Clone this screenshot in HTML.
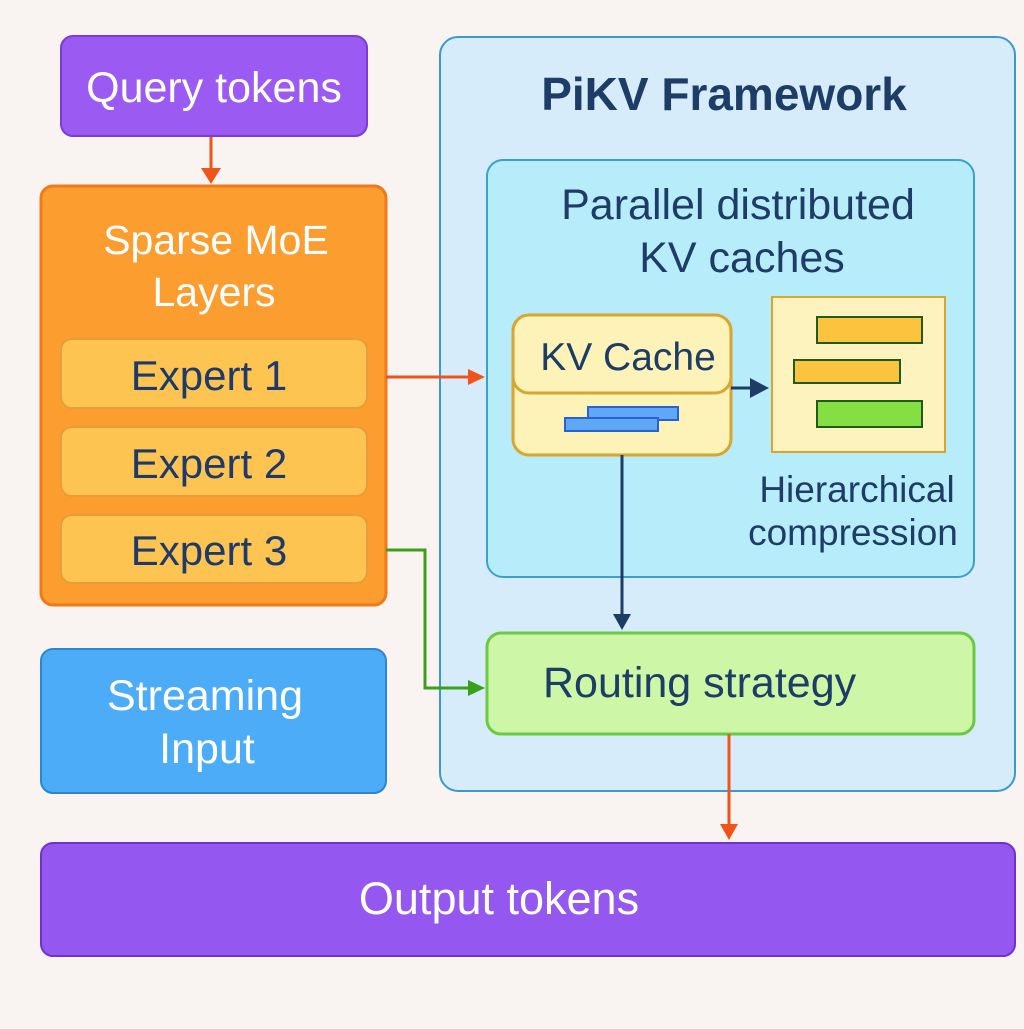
<!DOCTYPE html>
<html><head><style>html,body{margin:0;padding:0;background:#f9f4f2}</style></head><body>
<svg width="1024" height="1024" viewBox="0 0 1024 1024" xmlns="http://www.w3.org/2000/svg" font-family="Liberation Sans, sans-serif">
<rect width="1024" height="1024" fill="#f9f4f2"/>
<!-- Query tokens -->
<rect x="61" y="36" width="306" height="100" rx="12" fill="#9b5af2" stroke="#7a3bd6" stroke-width="2"/>
<text x="214" y="102" font-size="43" fill="#fff" text-anchor="middle">Query tokens</text>
<line x1="211" y1="137" x2="211" y2="172" stroke="#f0541a" stroke-width="3"/>
<path d="M201,168 L221,168 L211,184 z" fill="#f0541a"/>
<!-- Sparse MoE -->
<rect x="41" y="186" width="345" height="419" rx="12" fill="#fb9d2f" stroke="#f07a1a" stroke-width="3"/>
<text x="216" y="254" font-size="41" fill="#fff" text-anchor="middle">Sparse MoE</text>
<text x="214" y="306" font-size="41" fill="#fff" text-anchor="middle">Layers</text>
<rect x="61" y="339" width="306" height="69" rx="11" fill="#fdc451" stroke="#e89d38" stroke-width="2"/>
<text x="209" y="390" font-size="42" fill="#1e3a6a" text-anchor="middle">Expert 1</text>
<rect x="61" y="427" width="306" height="69" rx="11" fill="#fdc451" stroke="#e89d38" stroke-width="2"/>
<text x="209" y="478" font-size="42" fill="#1e3a6a" text-anchor="middle">Expert 2</text>
<rect x="61" y="515" width="306" height="68" rx="11" fill="#fdc451" stroke="#e89d38" stroke-width="2"/>
<text x="209" y="565" font-size="42" fill="#1e3a6a" text-anchor="middle">Expert 3</text>
<!-- Streaming -->
<rect x="41" y="649" width="345" height="144" rx="12" fill="#4cacf7" stroke="#2b85d0" stroke-width="2"/>
<text x="205" y="710" font-size="43" fill="#fff" text-anchor="middle">Streaming</text>
<text x="207" y="763" font-size="43" fill="#fff" text-anchor="middle">Input</text>
<!-- PiKV -->
<rect x="440" y="37" width="575" height="754" rx="18" fill="#d6ecfb" stroke="#3a9ad0" stroke-width="2"/>
<text x="724" y="110" font-size="46" font-weight="bold" fill="#1d3c66" text-anchor="middle">PiKV Framework</text>
<rect x="487" y="160" width="487" height="417" rx="16" fill="#b7ecfb" stroke="#3aa0cc" stroke-width="2"/>
<text x="738" y="219" font-size="43" fill="#1d3c66" text-anchor="middle">Parallel distributed</text>
<text x="742" y="272" font-size="43" fill="#1d3c66" text-anchor="middle">KV caches</text>
<!-- KV cache -->
<rect x="513" y="315" width="218" height="140" rx="16" fill="#fdf2b7" stroke="#d9a531" stroke-width="3"/>
<rect x="513" y="315" width="218" height="78" rx="16" fill="#fdf2b7" stroke="#d9a531" stroke-width="3"/>
<text x="628" y="370" font-size="39" fill="#1d3c66" text-anchor="middle">KV Cache</text>
<rect x="588" y="407" width="90" height="13" fill="#5ea8f5" stroke="#2a60d6" stroke-width="2"/>
<rect x="565" y="418" width="93" height="13" fill="#5ea8f5" stroke="#2a60d6" stroke-width="2"/>
<line x1="731" y1="388" x2="755" y2="388" stroke="#1d3c66" stroke-width="3"/>
<path d="M750,378 L769,388 L750,398 z" fill="#1d3c66"/>
<!-- hier -->
<rect x="772" y="297" width="173" height="155" fill="#fdf3bf" stroke="#d9a531" stroke-width="2"/>
<rect x="817" y="317" width="105" height="26" fill="#fcc43e" stroke="#1f5a1a" stroke-width="2"/>
<rect x="794" y="360" width="106" height="23" fill="#fcc43e" stroke="#1f5a1a" stroke-width="2"/>
<rect x="817" y="401" width="105" height="26" fill="#84e042" stroke="#1f5a1a" stroke-width="2"/>
<text x="857" y="502" font-size="37" fill="#1d3c66" text-anchor="middle">Hierarchical</text>
<text x="853" y="545" font-size="37" fill="#1d3c66" text-anchor="middle">compression</text>
<line x1="622" y1="455" x2="622" y2="618" stroke="#1d3c66" stroke-width="3"/>
<path d="M613,614 L631,614 L622,630 z" fill="#1d3c66"/>
<!-- Routing -->
<rect x="487" y="633" width="487" height="101" rx="14" fill="#cdf7a6" stroke="#6cc943" stroke-width="3"/>
<text x="543" y="697" font-size="43" fill="#1d3c66">Routing strategy</text>
<!-- arrows -->
<line x1="386" y1="377" x2="472" y2="377" stroke="#f0541a" stroke-width="3"/>
<path d="M468,369 L485,377 L468,385 z" fill="#f0541a"/>
<polyline points="386,550 425,550 425,688 472,688" fill="none" stroke="#3aa01a" stroke-width="3"/>
<path d="M468,680 L485,688 L468,696 z" fill="#3aa01a"/>
<line x1="729" y1="734" x2="729" y2="828" stroke="#f0541a" stroke-width="3"/>
<path d="M720,824 L738,824 L729,840 z" fill="#f0541a"/>
<!-- Output -->
<rect x="41" y="843" width="974" height="113" rx="12" fill="#9457f0" stroke="#6f33cc" stroke-width="2"/>
<text x="499" y="914" font-size="45" fill="#fff" text-anchor="middle">Output tokens</text>
</svg>
</body></html>
